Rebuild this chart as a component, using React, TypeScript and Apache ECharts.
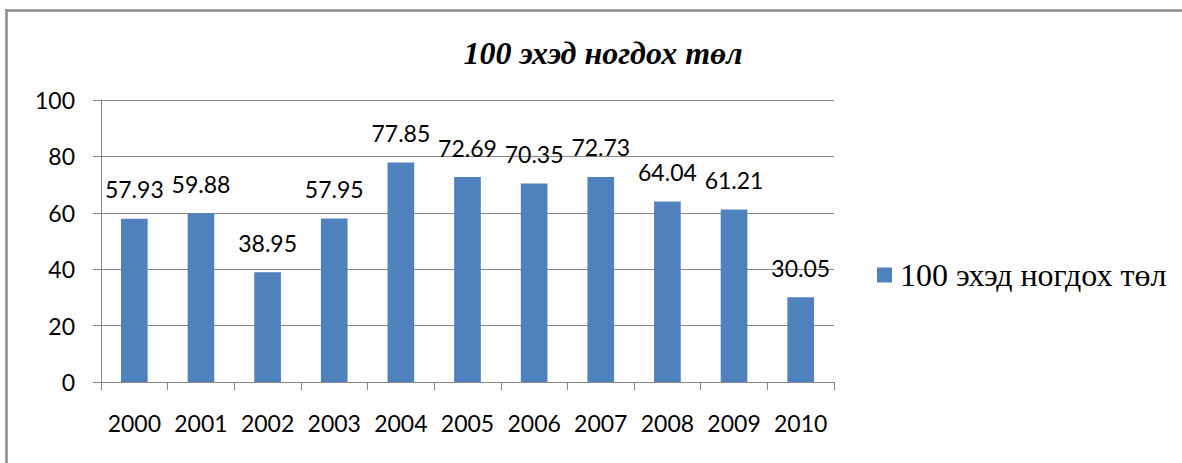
import React, { useEffect, useRef } from "react";
import * as echarts from "echarts";

const years = ["2000", "2001", "2002", "2003", "2004", "2005", "2006", "2007", "2008", "2009", "2010"];
const values = [57.93, 59.88, 38.95, 57.95, 77.85, 72.69, 70.35, 72.73, 64.04, 61.21, 30.05];
const seriesName = "100 эхэд ногдох төл";
const titleText = "100 эхэд ногдох төл";

export default function App() {
  const ref = useRef<HTMLDivElement>(null);
  useEffect(() => {
    if (!ref.current) return;
    document.documentElement.style.overflow = "hidden";
    document.body.style.overflow = "hidden";
    const chart = echarts.init(ref.current, null, { renderer: "svg" });
    const sans = "Lato";
    chart.setOption({
      animation: false,
      backgroundColor: "#ffffff",
      title: {
        text: titleText,
        left: 598,
        textAlign: "center",
        top: 32,
        textStyle: {
          fontFamily: "Liberation Serif",
          fontStyle: "italic",
          fontWeight: "bold",
          fontSize: 32,
          color: "#000",
          lineHeight: 32,
        },
      },
      graphic: [
        {
          type: "rect",
          shape: { x: 5.25, y: 9.25, width: 1176.75, height: 2.5 },
          style: { fill: "#8a8a8a" },
          silent: true,
        },
        {
          type: "rect",
          shape: { x: 5.25, y: 9.25, width: 2.5, height: 453.75 },
          style: { fill: "#8a8a8a" },
          silent: true,
        },
      ],
      legend: {
        left: 872,
        top: 254,
        itemWidth: 15,
        itemHeight: 15,
        icon: "rect",
        data: [seriesName],
        textStyle: {
          fontFamily: "Liberation Serif",
          fontSize: 32,
          color: "#000",
          lineHeight: 32,
          padding: [0, 0, 0, 3],
        },
      },
      grid: { left: 101, top: 100, width: 733, height: 282, containLabel: false },
      xAxis: {
        type: "category",
        data: years,
        axisLine: { lineStyle: { color: "#868686", width: 1 } },
        axisTick: { show: true, length: 8, lineStyle: { color: "#868686" } },
        axisLabel: { fontFamily: sans, fontSize: 23, color: "#000", margin: 29, interval: 0 },
      },
      yAxis: {
        type: "value",
        min: 0,
        max: 100,
        interval: 20,
        axisLine: { show: true, lineStyle: { color: "#868686", width: 1 } },
        axisTick: { show: true, length: 8, lineStyle: { color: "#868686" } },
        splitLine: { lineStyle: { color: "#868686", width: 1 } },
        axisLabel: { fontFamily: sans, fontSize: 23, color: "#000", margin: 26 },
      },
      series: [
        {
          name: seriesName,
          type: "bar",
          data: values,
          barCategoryGap: "60%",
          itemStyle: { color: "#4F81BD" },
          label: {
            show: true,
            position: "top",
            distance: 18,
            fontFamily: sans,
            fontSize: 23,
            color: "#000",
            formatter: (p: any) => p.value.toFixed(2),
          },
        },
      ],
    });
    return () => chart.dispose();
  }, []);
  return (
    <div
      ref={ref}
      style={{ position: "absolute", left: 0, top: 0, width: 1182, height: 463 }}
    />
  );
}
